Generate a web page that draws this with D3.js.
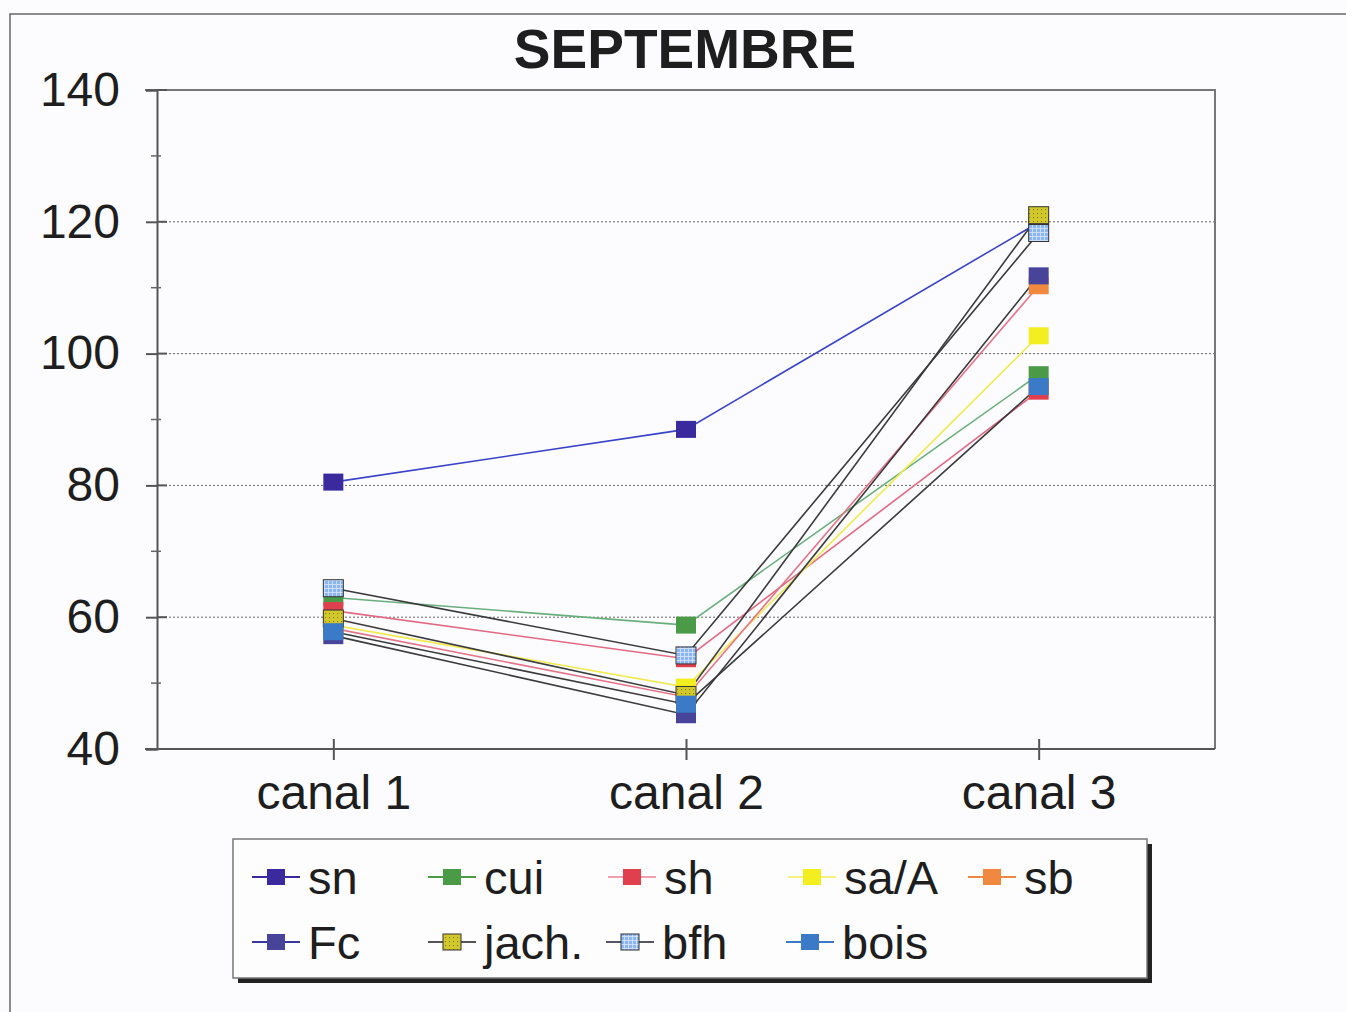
<!DOCTYPE html>
<html>
<head>
<meta charset="utf-8">
<script src="https://cdn.jsdelivr.net/npm/d3@7"></script>
<style>
  html, body { margin: 0; padding: 0; background: #fcfcfe; }
  svg { display: block; font-family: "Liberation Sans", Arial, sans-serif; }
</style>
</head>
<body>
<svg id="chart" width="1346" height="1012"></svg>
<script>
// Categories on the x axis
const categories = ["canal 1", "canal 2", "canal 3"];

// Series values per canal
const sn    = [80.5, 88.5, 119.9];
const cui   = [63.0, 58.8, 96.8];
const sh    = [61.0, 53.7, 94.3];
const saA   = [58.8, 49.4, 102.7];
const sb    = [58.3, 47.9, 110.3];
const Fc    = [57.2, 45.2, 111.8];
const jach  = [59.8, 48.2, 121.0];
const bfh   = [64.4, 54.2, 118.3];
const bois  = [57.8, 46.8, 95.0];

// Series names in drawing / legend order
const seriesNames = ["sn", "cui", "sh", "sa/A", "sb", "Fc", "jach.", "bfh", "bois"];
const seriesValues = [sn, cui, sh, saA, sb, Fc, jach, bfh, bois];

// Axis ticks
const yMajorTicks = [40, 60, 80, 100, 120, 140];
const yMinorTicks = [50, 70, 90, 110, 130];
const gridTicks = [60, 80, 100, 120];

// Styles per series
const styles = {
  "sn":    { fill: "#3a2a9e", line: "#3a44c8", legendLine: "#3a2a9e" },
  "cui":   { fill: "#4a9a48", line: "#6aae7c", legendLine: "#4a9a48" },
  "sh":    { fill: "#e0404e", line: "#e06a82", legendLine: "#f0a0b0" },
  "sa/A":  { fill: "#f2ee20", line: "#f0ea50", legendLine: "#f6f080" },
  "sb":    { fill: "#f08840", line: "#e47488", legendLine: "#f08840" },
  "Fc":    { fill: "#48449a", line: "#3a3a3a", legendLine: "#3a3a9a" },
  "jach.": { fill: "url(#patJach)", line: "#3c3c3c", legendLine: "#555", stroke: "#333" },
  "bfh":   { fill: "url(#patBfh)", line: "#3a3a3a", legendLine: "#556", stroke: "#333" },
  "bois":  { fill: "#3a7ac6", line: "#3a3a3a", legendLine: "#3a7ac6" }
};

const svg = d3.select("#chart");

// Marker fill patterns
const defs = svg.append("defs");
const pj = defs.append("pattern").attr("id", "patJach")
  .attr("patternUnits", "userSpaceOnUse").attr("width", 4).attr("height", 4);
pj.append("rect").attr("width", 4).attr("height", 4).attr("fill", "#d2c82a");
pj.append("rect").attr("x", 1).attr("y", 1).attr("width", 1.1).attr("height", 1.1).attr("fill", "#8a7e22");
const pb = defs.append("pattern").attr("id", "patBfh")
  .attr("patternUnits", "userSpaceOnUse").attr("width", 4).attr("height", 4);
pb.append("rect").attr("width", 4).attr("height", 4).attr("fill", "#8cb6f0");
pb.append("path").attr("d", "M0,0.5H4M0.5,0V4").attr("stroke", "#d8e6fb").attr("stroke-width", 0.8);

// Page frame
svg.append("path").attr("d", "M10,1012V14H1346")
  .attr("fill", "none").attr("stroke", "#666").attr("stroke-width", 1.5);

// Plot geometry
const plot = { left: 157, right: 1215, top: 90, bottom: 749 };
const x = d3.scalePoint().domain(categories).range([plot.left, plot.right]).padding(0.5);
const y = d3.scaleLinear().domain([40, 140]).range([plot.bottom, plot.top]);

// Title
svg.append("text").attr("x", 685).attr("y", 68).attr("text-anchor", "middle")
  .attr("font-size", 55).attr("font-weight", "bold").attr("fill", "#1e1e1e")
  .text("SEPTEMBRE");

// Gridlines
svg.append("g").selectAll("line").data(gridTicks).join("line")
  .attr("x1", plot.left).attr("x2", plot.right)
  .attr("y1", d => y(d)).attr("y2", d => y(d))
  .attr("stroke", "#666").attr("stroke-width", 1).attr("stroke-dasharray", "2,2");

// Plot border (top and right)
svg.append("path")
  .attr("d", `M${plot.left - 12},${plot.top}H${plot.right}V${plot.bottom}`)
  .attr("fill", "none").attr("stroke", "#777").attr("stroke-width", 2);

// Y axis
const yAxis = svg.append("g").attr("transform", `translate(${plot.left},0)`)
  .call(d3.axisLeft(y).tickValues(yMajorTicks).tickSize(11).tickPadding(26).tickFormat(d3.format("d")));
yAxis.select(".domain").attr("stroke", "#555").attr("stroke-width", 2);
yAxis.selectAll(".tick line").attr("stroke", "#555").attr("stroke-width", 2);
yAxis.selectAll(".tick text").attr("font-size", 48).attr("fill", "#1e1e1e")
  .attr("font-family", "Liberation Sans, Arial, sans-serif");
// major ticks cross the axis
svg.append("g").selectAll("line").data(yMajorTicks).join("line")
  .attr("x1", plot.left).attr("x2", plot.left + 10)
  .attr("y1", d => y(d)).attr("y2", d => y(d))
  .attr("stroke", "#555").attr("stroke-width", 2);
// minor ticks
svg.append("g").selectAll("line").data(yMinorTicks).join("line")
  .attr("x1", plot.left - 6).attr("x2", plot.left + 4)
  .attr("y1", d => y(d)).attr("y2", d => y(d))
  .attr("stroke", "#666").attr("stroke-width", 1.5);

// X axis
const xAxis = svg.append("g").attr("transform", `translate(0,${plot.bottom})`)
  .call(d3.axisBottom(x).tickSize(11).tickPadding(14).tickSizeOuter(0));
xAxis.select(".domain").attr("stroke", "#555").attr("stroke-width", 2)
  .attr("d", `M${plot.left - 12},0H${plot.right}`);
xAxis.selectAll(".tick line").attr("stroke", "#555").attr("stroke-width", 2)
  .attr("y1", -10);
xAxis.selectAll(".tick text").attr("font-size", 48).attr("fill", "#1e1e1e")
  .attr("font-family", "Liberation Sans, Arial, sans-serif").attr("dy", "0.72em");

// Series lines
const line = d3.line().x((d, i) => x(categories[i])).y(d => y(d));
const gLines = svg.append("g");
seriesNames.forEach((name, k) => {
  gLines.append("path").datum(seriesValues[k])
    .attr("d", line).attr("fill", "none")
    .attr("stroke", styles[name].line).attr("stroke-width", 1.6);
});

// Series markers
const mw = 20, mh = 17;
const gMarks = svg.append("g");
seriesNames.forEach((name, k) => {
  gMarks.selectAll(null).data(seriesValues[k]).join("rect")
    .attr("x", (d, i) => x(categories[i]) - mw / 2)
    .attr("y", d => y(d) - mh / 2)
    .attr("width", mw).attr("height", mh)
    .attr("fill", styles[name].fill)
    .attr("stroke", styles[name].stroke || "none").attr("stroke-width", 1);
});

// Legend
const lg = svg.append("g");
lg.append("rect").attr("x", 238).attr("y", 844).attr("width", 914).attr("height", 139).attr("fill", "#222");
lg.append("rect").attr("x", 233).attr("y", 839).attr("width", 914).attr("height", 139)
  .attr("fill", "#fdfdfe").attr("stroke", "#777").attr("stroke-width", 1.5);

const legendPos = [
  [276, 877], [452, 877], [632, 877], [812, 877], [992, 877],
  [276, 942], [452, 942], [630, 942], [810, 942]
];
seriesNames.forEach((name, k) => {
  const [cx, cy] = legendPos[k];
  lg.append("line").attr("x1", cx - 24).attr("x2", cx + 24).attr("y1", cy).attr("y2", cy)
    .attr("stroke", styles[name].legendLine).attr("stroke-width", 2);
  lg.append("rect").attr("x", cx - 9).attr("y", cy - 8).attr("width", 18).attr("height", 16)
    .attr("fill", styles[name].fill)
    .attr("stroke", styles[name].stroke || "none").attr("stroke-width", 1);
  lg.append("text").attr("x", cx + 32).attr("y", cy + 17)
    .attr("font-size", 47).attr("fill", "#1e1e1e").text(name);
});
</script>
</body>
</html>
